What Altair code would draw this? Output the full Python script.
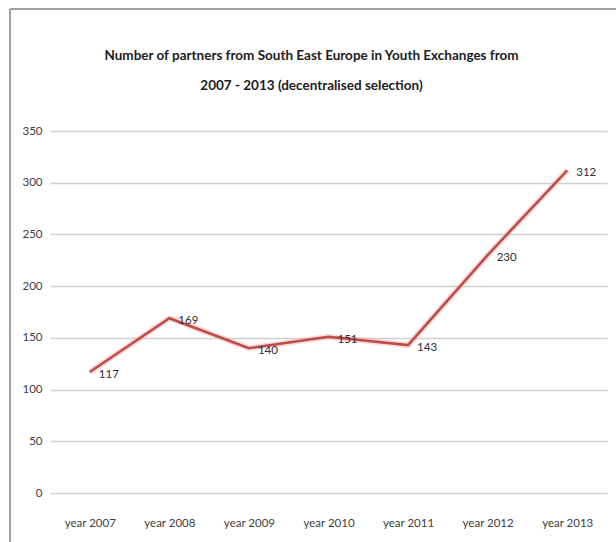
import altair as alt
import pandas as pd

years = ["year 2007", "year 2008", "year 2009", "year 2010", "year 2011", "year 2012", "year 2013"]
partners = [117, 169, 140, 151, 143, 230, 312]
y_ticks = [0, 50, 100, 150, 200, 250, 300, 350]
title_lines = ["Number of partners from South East Europe in Youth Exchanges from",
               "2007 - 2013 (decentralised selection)"]

df = pd.DataFrame({"year": years, "partners": partners})

FONT = "Lato, sans-serif"
RED = "#be4b48"

x_enc = alt.X("year:N", sort=years, title=None,
              scale=alt.Scale(paddingInner=0, paddingOuter=0, align=0.5),
              axis=alt.Axis(labelAngle=0, ticks=False, domain=False, grid=False,
                            labelPadding=24, labelFontSize=11.5, labelColor="#404040",
                            labelFont=FONT))
y_enc = alt.Y("partners:Q", title=None,
              scale=alt.Scale(domain=[0, 350], nice=False),
              axis=alt.Axis(values=y_ticks, ticks=False, domain=False, grid=True,
                            gridColor="#d0d0d0", gridWidth=1.5, labelPadding=8,
                            labelFontSize=11.5, labelColor="#404040", labelFont=FONT))

base = alt.Chart(df)

glow = base.mark_line(color="#f0b0ae", strokeWidth=6, opacity=0.45).encode(x=x_enc, y=y_enc)
line = base.mark_line(color=RED, strokeWidth=2.5).encode(x=x_enc, y=y_enc)
labels = base.mark_text(align="left", baseline="middle", dx=9, dy=3, fontSize=11.5,
                        color="#303030", font=FONT).encode(
    x=x_enc, y=y_enc, text=alt.Text("partners:Q"))

border_top = alt.Chart(df).mark_rule(color="#a0a0a0", strokeWidth=1.5).encode(
    x=alt.value(-40), x2=alt.value(570), y=alt.value(-122))
border_left = alt.Chart(df).mark_rule(color="#a0a0a0", strokeWidth=1.5).encode(
    x=alt.value(-40), y=alt.value(-122), y2=alt.value(420))

chart = alt.layer(border_top, border_left, glow, line, labels).properties(
    width=557, height=362,
    background="white",
    autosize=alt.AutoSizeParams(type="none"),
    padding={"left": 50, "top": 131, "right": 9, "bottom": 49},
    title=alt.TitleParams(title_lines, anchor="middle", frame="group", dx=-17,
                          offset=-84, font=FONT, fontSize=13.5, fontWeight="bold",
                          color="#202020", lineHeight=30),
).configure_view(stroke=None)

chart.save("out.html", embed_options={"renderer": "svg", "actions": False})
